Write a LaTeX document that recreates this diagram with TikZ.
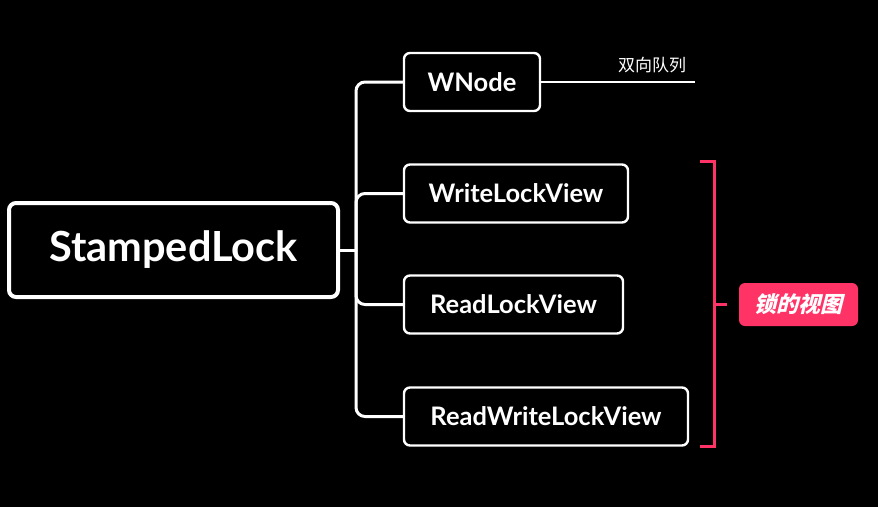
\documentclass[tikz,border=0pt]{standalone}
\usepackage{fontspec}
\setmainfont{Lato}
\newfontfamily\cjk{Noto Sans CJK SC}
\usetikzlibrary{positioning}
\definecolor{tagred}{HTML}{FF3366}

\begin{document}
\begin{tikzpicture}[x=1pt, y=-1pt,
    rootbox/.style={draw=white, line width=4pt, rounded corners=7pt, text=white,
        font=\fontsize{41.5}{48}\selectfont\bfseries, minimum height=94pt, minimum width=329pt},
    leafbox/.style={draw=white, line width=2.4pt, rounded corners=6pt, text=white,
        font=\fontsize{25.5}{30}\selectfont\bfseries, minimum height=58pt},
    branch/.style={draw=white, line width=3pt, rounded corners=9pt},
    bracket/.style={draw=tagred, line width=3pt}]
    % Background
    \fill[black] (0,0) rectangle (878,507);
    \useasboundingbox (0,0) rectangle (878,507);

    % Root
    \node[rootbox] (root) at (173.5,250) {StampedLock};

    % Leaves
    \node[leafbox, minimum width=136pt] (wnode) at (472,82) {WNode};
    \node[leafbox, minimum width=224pt] (write) at (516,193.5) {WriteLockView};
    \node[leafbox, minimum width=219pt] (read) at (513.5,304.5) {ReadLockView};
    \node[leafbox, minimum width=284pt] (readwrite) at (546,416.5) {ReadWriteLockView};

    % Branches
    \coordinate (fork) at (356,250);
    \draw[branch] (root.east) -- (fork);
    \draw[branch] (fork) |- (wnode.west);
    \draw[branch] (fork) |- (write.west);
    \draw[branch] (fork) |- (read.west);
    \draw[branch] (fork) |- (readwrite.west);

    % Queue note
    \coordinate (qend) at (695,82);
    \draw[white, line width=2pt] (wnode.east) -- (qend);
    \node[text=white, font=\cjk\fontsize{17}{20}\selectfont] (queue) at (652,65) {双向队列};

    % Lock views bracket
    \node[fill=tagred, rounded corners=6pt, text=white, minimum width=119pt, minimum height=43pt,
        font=\cjk\fontsize{22}{26}\selectfont\bfseries\addfontfeatures{FakeSlant=0.25}] (tag) at (798.5,304.5) {锁的视图};
    \coordinate (mid) at (714,304);
    \coordinate (tick) at (727,304);
    \draw[bracket] (700,161) -- (714,161) -- (714,446) -- (700,446);
    \draw[bracket] (mid) -- (tick);
\end{tikzpicture}
\end{document}
